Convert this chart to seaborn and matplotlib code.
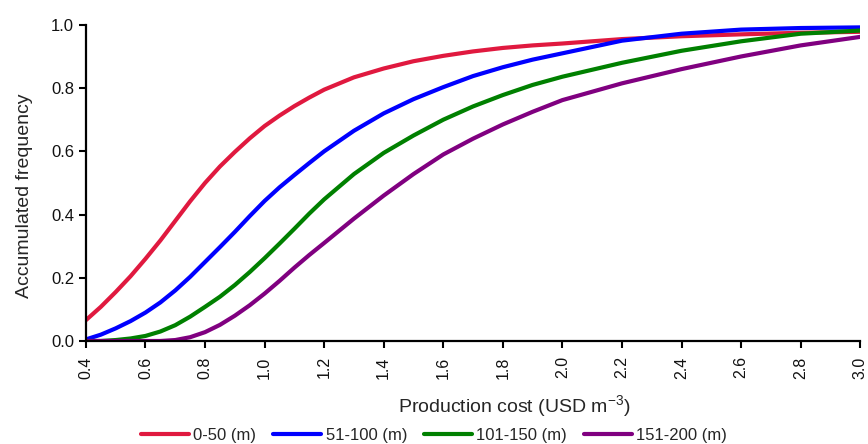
import numpy as np
import pandas as pd
import matplotlib
matplotlib.use("Agg")
import matplotlib.pyplot as plt
import seaborn as sns

# Data
cost = [0.4, 0.45, 0.5, 0.55, 0.6, 0.65, 0.7, 0.75, 0.8, 0.85, 0.9, 0.95, 1.0, 1.05,
        1.1, 1.15, 1.2, 1.3, 1.4, 1.5, 1.6, 1.7, 1.8, 1.9, 2.0, 2.2, 2.4, 2.6, 2.8, 3.0]
freq_0_50 = [0.066, 0.108, 0.155, 0.205, 0.26, 0.318, 0.38, 0.442, 0.50, 0.552, 0.598,
             0.641, 0.68, 0.713, 0.743, 0.770, 0.795, 0.834, 0.862, 0.885, 0.902,
             0.916, 0.927, 0.935, 0.941, 0.955, 0.964, 0.970, 0.975, 0.978]
freq_51_100 = [0.005, 0.02, 0.04, 0.063, 0.09, 0.122, 0.16, 0.203, 0.25, 0.297, 0.345,
               0.395, 0.443, 0.486, 0.525, 0.563, 0.60, 0.665, 0.72, 0.765, 0.803,
               0.838, 0.866, 0.89, 0.91, 0.950, 0.972, 0.985, 0.99, 0.992]
freq_101_150 = [0.0, 0.0, 0.003, 0.008, 0.016, 0.03, 0.05, 0.077, 0.108, 0.14, 0.177,
                0.218, 0.262, 0.308, 0.355, 0.403, 0.448, 0.528, 0.595, 0.65, 0.70,
                0.742, 0.778, 0.81, 0.836, 0.88, 0.918, 0.948, 0.972, 0.982]
freq_151_200 = [0.0, 0.0, 0.0, 0.0, 0.0, 0.0, 0.003, 0.012, 0.028, 0.051, 0.08, 0.113,
                0.15, 0.19, 0.232, 0.272, 0.31, 0.387, 0.46, 0.528, 0.59, 0.64, 0.685,
                0.725, 0.762, 0.815, 0.86, 0.90, 0.935, 0.962]
groups = ["0-50 (m)", "51-100 (m)", "101-150 (m)", "151-200 (m)"]
colors = ["#E0193F", "#0000FF", "#008000", "#800080"]
xticks = [0.4, 0.6, 0.8, 1.0, 1.2, 1.4, 1.6, 1.8, 2.0, 2.2, 2.4, 2.6, 2.8, 3.0]
yticks = [0.0, 0.2, 0.4, 0.6, 0.8, 1.0]

series = [freq_0_50, freq_51_100, freq_101_150, freq_151_200]
df = pd.concat([pd.DataFrame({"cost": cost, "freq": s, "group": g})
                for s, g in zip(series, groups)], ignore_index=True)

sns.set_theme(style="ticks")
plt.rcParams["font.family"] = ["Liberation Sans", "DejaVu Sans"]
plt.rcParams["mathtext.default"] = "regular"

fig = plt.figure(figsize=(8.68, 4.44), dpi=100)
ax = fig.add_axes([0.099, 0.232, 0.892, 0.712])

sns.lineplot(data=df, x="cost", y="freq", hue="group", hue_order=groups,
             palette=colors, linewidth=3, ax=ax, legend=True)

ax.set_xlim(0.4, 3.0)
ax.set_ylim(0.0, 1.0)
ax.set_xticks(xticks)
ax.set_xticklabels([f"{v:.1f}" for v in xticks], rotation=90, fontsize=11.5)
ax.set_yticks(yticks)
ax.set_yticklabels([f"{v:.1f}" for v in yticks], fontsize=12)
ax.set_xlabel("Production cost (USD m$^{-3}$)", fontsize=14)
ax.set_ylabel("Accumulated frequency", fontsize=14)
ax.xaxis.set_label_coords(0.553, -0.165)
ax.yaxis.set_label_coords(-0.068, 0.459)
for sp in ["top", "right"]:
    ax.spines[sp].set_visible(False)
for sp in ["left", "bottom"]:
    ax.spines[sp].set_linewidth(1.6)
    ax.spines[sp].set_color("black")
ax.tick_params(axis="both", direction="out", length=5, width=1.5, color="black",
               labelcolor="#111111")
ax.tick_params(axis="x", pad=6)

handles, labels = ax.get_legend_handles_labels()
ax.get_legend().remove()
leg = fig.legend(handles, labels, loc="center", bbox_to_anchor=(0.5, 0.019), ncol=4,
                 frameon=False, fontsize=12, handlelength=2.9, handletextpad=0.25,
                 columnspacing=1.0, borderaxespad=0)
for h in leg.legend_handles:
    h.set_linewidth(3)

fig.savefig("out.png", dpi=100)
